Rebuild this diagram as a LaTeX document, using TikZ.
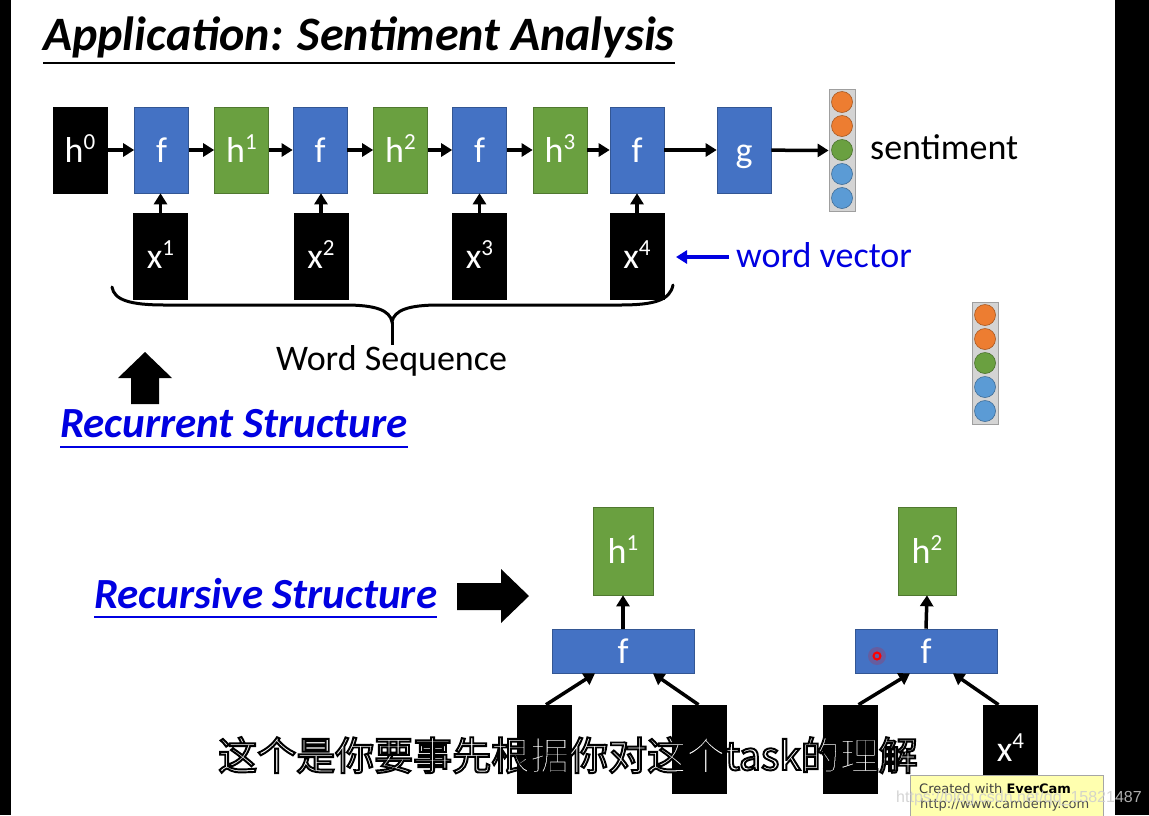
\documentclass[tikz,border=0pt]{standalone}
\usepackage{fontspec}
\setmainfont{Carlito}
\newfontfamily\cjkout[FakeBold=5]{Noto Sans CJK SC}
\newfontfamily\dvs{DejaVu Sans}
\newfontfamily\lib{Liberation Sans}
\usetikzlibrary{arrows.meta}
\definecolor{myblue}{RGB}{68,114,196}
\definecolor{mygreen}{RGB}{106,160,64}
\definecolor{myorange}{RGB}{237,125,49}
\definecolor{mylblue}{RGB}{91,155,213}
\definecolor{txtblue}{RGB}{0,0,225}
\definecolor{evyellow}{RGB}{255,255,175}
\definecolor{vecgray}{RGB}{212,212,212}
\newcommand\mysup[1]{\raisebox{0.36em}{\fontsize{23}{23}\selectfont #1}}
\newcommand\outlined[1]{\special{pdf:bcolor [1 1 1] [0 0 0]}#1\special{pdf:ecolor}}
\begin{document}
\begin{tikzpicture}[x=1pt,y=-1pt,
  nbox/.style={draw=#1!75!black, fill=#1, line width=0.6pt, minimum width=54pt,
    minimum height=86pt, inner sep=0pt, text=white, text height=24pt, text depth=0pt,
    font=\fontsize{36}{40}\selectfont},
  wbox/.style={nbox=#1, minimum width=142pt, minimum height=44pt},
  arr/.style={-{Triangle[length=11pt,width=13pt]}, line width=3.5pt},
  vecbox/.style={draw=gray!75, fill=vecgray, line width=0.8pt, minimum width=26pt, minimum height=122pt, inner sep=0pt},
  dot/.style={circle, minimum size=21pt, inner sep=0pt, line width=0.6pt},
  lbl/.style={font=\fontsize{36}{40}\selectfont, inner sep=0pt, anchor=base west},
  head/.style={font=\fontsize{48}{52}\selectfont\bfseries\itshape, inner sep=0pt, anchor=base west},
  subh/.style={font=\fontsize{43}{48}\selectfont\bfseries\itshape, text=txtblue, inner sep=0pt, anchor=base west},
  subt/.style={font=\fontsize{39}{44}\selectfont\cjkout, inner sep=0pt, anchor=base},
]
\useasboundingbox (0,0) rectangle (1149,815);
\fill[white] (0,0) rectangle (1149,815);
\fill[black] (0,0) rectangle (11,815);
\fill[black] (1115,0) rectangle (1149,815);

% title
\node[head] (title) at (43,50) {Application: Sentiment Analysis};
\draw[line width=2.5pt] (title.base west |- 0,63) -- (title.base east |- 0,63);

% recurrent chain
\node[nbox=black]   (h0) at (80,150)    {h\mysup{0}};
\node[nbox=myblue]  (f1) at (161.5,150) {f};
\node[nbox=mygreen] (h1) at (241.5,150) {h\mysup{1}};
\node[nbox=myblue]  (f2) at (320,150)   {f};
\node[nbox=mygreen] (h2) at (400.5,150) {h\mysup{2}};
\node[nbox=myblue]  (f3) at (479.5,150) {f};
\node[nbox=mygreen] (h3) at (560,150)   {h\mysup{3}};
\node[nbox=myblue]  (f4) at (637,150)   {f};
\node[nbox=myblue]  (g)  at (744,150)   {g};

\node[nbox=black] (x1) at (160.5,256.5) {x\mysup{1}};
\node[nbox=black] (x2) at (321,256.5)   {x\mysup{2}};
\node[nbox=black] (x3) at (479.5,256.5) {x\mysup{3}};
\node[nbox=black] (x4) at (637,256.5)   {x\mysup{4}};

\draw[arr] (h0) -- (f1);
\draw[arr] (f1) -- (h1);
\draw[arr] (h1) -- (f2);
\draw[arr] (f2) -- (h2);
\draw[arr] (h2) -- (f3);
\draw[arr] (f3) -- (h3);
\draw[arr] (h3) -- (f4);
\draw[arr] (f4) -- (g);
\foreach \i in {1,2,3,4} \draw[arr] (x\i.north) -- (x\i.north |- f\i.south);

% output vector
\node[vecbox] (vec) at (842,150.5) {};
\foreach \c [count=\i] in {myorange,myorange,mygreen,mylblue,mylblue}
  \node[dot, fill=\c, draw=\c!70!black] (va\i) at (842,78+24*\i) {};
\draw[arr] (g) -- (vec.west);
\node[lbl] (sent) at (870,159) {sentiment};

% word vector
\node[lbl, text=txtblue] (wv) at (736,267) {word vector};
\coordinate (wvs) at (729,257);
\draw[-{Triangle[length=11pt,width=13pt]}, line width=3.5pt, txtblue] (wvs) -- (676,257);

% brace
\coordinate (bl) at (112,287);
\coordinate (br) at (673,285);
\coordinate (bm) at (392,322);
\coordinate (bt) at (392,345);
\draw[line width=3pt, line cap=round]
  (bl) .. controls (114,300) and (130,305) .. (165,305) -- (345,305)
       .. controls (375,305) and (390,310) .. (bm)
       .. controls (394,310) and (409,305) .. (439,305) -- (620,305)
       .. controls (655,305) and (670,300) .. (br);
\draw[line width=3pt] (bm) -- (bt);
\node[lbl] (ws) at (276,370) {Word Sequence};

% block up arrow
\fill (131,404) -- (131,378) -- (118,378) -- (145,352) -- (172,378) -- (159,378) -- (159,404) -- cycle;

% headings
\node[subh] (rec) at (60,437) {Recurrent Structure};
\draw[txtblue, line width=2pt] (rec.base west |- 0,447) -- (rec.base east |- 0,447);
\node[subh] (rcs) at (94,608) {Recursive Structure};
\draw[txtblue, line width=2pt] (rcs.base west |- 0,617) -- (rcs.base east |- 0,617);

% block right arrow
\fill (457,583) -- (501,583) -- (501,569) -- (529,596) -- (501,623) -- (501,610) -- (457,610) -- cycle;

% recursive tree 1
\node[nbox=mygreen, minimum width=60pt, minimum height=88pt] (ra) at (623,551) {h\mysup{1}};
\node[wbox=myblue] (fa) at (623,651) {f};
\node[nbox=black, minimum height=88pt] (la) at (544,749) {};
\node[nbox=black, minimum height=88pt] (lb) at (699.5,749) {};
\draw[arr] (fa.north) -- (ra.south);
\draw[arr] ([xshift=2pt]la.north) -- ([xshift=-28pt]fa.south);
\draw[arr] ([xshift=-1pt]lb.north) -- ([xshift=30pt]fa.south);

% recursive tree 2
\node[nbox=mygreen, minimum width=58pt, minimum height=88pt] (rb) at (927,551) {h\mysup{2}};
\node[wbox=myblue] (fb) at (926,651) {f};
\node[nbox=black, minimum height=88pt] (lc) at (850.5,749) {};
\node[nbox=black, minimum height=88pt] (ld) at (1010.5,749) {x\mysup{4}};
\draw[arr] (fb.north) -- (rb.south);
\draw[arr] ([xshift=8pt]lc.north) -- ([xshift=-16pt]fb.south);
\draw[arr] ([xshift=-12pt]ld.north) -- ([xshift=27pt]fb.south);

% cursor
\fill[red, opacity=0.18] (877,656) circle (9);
\draw[red, line width=2pt] (877,656) circle (3.5);

% second vector
\node[vecbox] (vec2) at (985,363) {};
\foreach \c [count=\i] in {myorange,myorange,mygreen,mylblue,mylblue}
  \node[dot, fill=\c, draw=\c!70!black] (vb\i) at (985,291+24*\i) {};

% subtitle (outlined)
\node[subt] (subtitle) at (568,770) {\outlined{这个是你要事先根据你对这个task的理解}};

% EverCam watermark
\node[draw=gray!70, fill=evyellow, minimum width=193pt, minimum height=42pt, inner sep=0pt, anchor=north west] (ever) at (910,775) {};
\node[font=\fontsize{13}{15}\selectfont\dvs, text=black!75, inner sep=0pt, anchor=base west] (ev1) at (919,793) {Created with \textbf{\textcolor{black}{EverCam}}};
\node[font=\fontsize{13}{15}\selectfont\dvs, text=black!70, inner sep=0pt, anchor=base west] (ev2) at (920,808) {http://www.camdemy.com};
\node[font=\fontsize{16}{18}\selectfont\lib, text={rgb,255:red,205;green,205;blue,205}, opacity=0.85, inner sep=0pt, anchor=base west] (csdn) at (896,802) {https://blog.csdn.net/qq\_15821487};
\end{tikzpicture}
\end{document}
